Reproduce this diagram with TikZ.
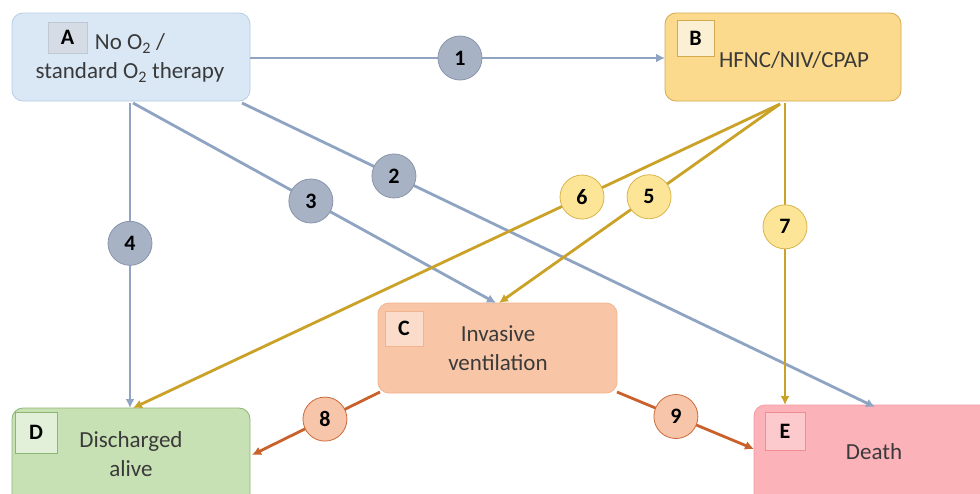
\documentclass[tikz,border=0pt]{standalone}
\usepackage{fontspec}
\setmainfont{Carlito}
\usetikzlibrary{arrows.meta,calc}
\definecolor{aFill}{HTML}{DAE8F6}\definecolor{aDraw}{HTML}{B7CDE6}
\definecolor{aLab}{HTML}{D6DCE5}\definecolor{aLabD}{HTML}{C0C8D4}
\definecolor{bFill}{HTML}{FCDA8D}\definecolor{bDraw}{HTML}{D4AA4F}
\definecolor{bLab}{HTML}{FCF0D4}
\definecolor{cFill}{HTML}{F8C6A6}\definecolor{cDraw}{HTML}{F2B48F}
\definecolor{cLab}{HTML}{FBDCCB}
\definecolor{dFill}{HTML}{C8E1B4}\definecolor{dDraw}{HTML}{8DB673}
\definecolor{dLab}{HTML}{E2F0D9}
\definecolor{eFill}{HTML}{FBB3B9}\definecolor{eDraw}{HTML}{F49AA2}
\definecolor{eLab}{HTML}{FCC9CD}\definecolor{eLabD}{HTML}{F08C96}
\definecolor{gLine}{HTML}{8FA4C2}\definecolor{yLine}{HTML}{C9A227}\definecolor{oLine}{HTML}{C8612B}
\definecolor{gCirc}{HTML}{A8B2C5}\definecolor{gCircD}{HTML}{8A95AB}
\definecolor{yCirc}{HTML}{FDE597}\definecolor{yCircD}{HTML}{D8B54C}
\definecolor{oCirc}{HTML}{F7C5A9}\definecolor{oCircD}{HTML}{CB6A39}
\definecolor{txt}{HTML}{3A3A3A}
\tikzset{
  statebox/.style={draw, line width=0.8pt, rounded corners=11pt, inner sep=0pt},
  labbox/.style={draw, line width=0.8pt, inner sep=0pt, font=\fontsize{22}{24}\selectfont\bfseries},
  bodytext/.style={align=center, text=txt, font=\fontsize{23}{29}\selectfont, inner sep=0pt},
  conn/.style={line width=2.8pt, -{Latex[length=9pt,width=9pt]}, shorten >=0pt},
  numcirc/.style={circle, draw, line width=0.8pt, minimum size=44pt, inner sep=0pt, font=\fontsize{22}{22}\selectfont\bfseries},
  gcirc/.style={numcirc, fill=gCirc, draw=gCircD},
  ycirc/.style={numcirc, fill=yCirc, draw=yCircD},
  ocirc/.style={numcirc, fill=oCirc, draw=oCircD},
}
\begin{document}
\begin{tikzpicture}[x=1pt,y=-1pt]
\useasboundingbox (0,0) rectangle (980,493);
\clip (0,0) rectangle (980,493);
\fill[white] (0,0) rectangle (980,493);
% state boxes
\node[statebox, fill=aFill, draw=aDraw, minimum width=238pt, minimum height=88pt] (A) at (131,57) {};
\node[statebox, fill=bFill, draw=bDraw, minimum width=236pt, minimum height=88pt] (B) at (783,57) {};
\node[statebox, fill=cFill, draw=cDraw, minimum width=239pt, minimum height=90pt] (C) at (497.5,348) {};
\node[statebox, fill=dFill, draw=dDraw, minimum width=238pt, minimum height=100pt] (D) at (131,458) {};
\node[statebox, fill=eFill, draw=eDraw, minimum width=240pt, minimum height=100pt] (E) at (874,455) {};
% letter boxes
\node[labbox, fill=aLab, draw=aLabD, minimum width=39pt, minimum height=31pt] (Al) at (67.5,37.5) {A};
\node[labbox, fill=bLab, draw=bDraw, minimum width=37pt, minimum height=36pt] (Bl) at (695.5,38) {B};
\node[labbox, fill=cLab, draw=cDraw, minimum width=38pt, minimum height=35pt] (Cl) at (404,328.5) {C};
\node[labbox, fill=dLab, draw=dDraw, minimum width=42pt, minimum height=41pt] (Dl) at (36,432.5) {D};
\node[labbox, fill=eLab, draw=eLabD, minimum width=40pt, minimum height=38pt] (El) at (785,431) {E};
% body texts
\node[bodytext] (At) at (130,58) {No O\textsubscript{2} /\\standard O\textsubscript{2} therapy};
\node[bodytext] (Bt) at (794,60) {HFNC/NIV/CPAP};
\node[bodytext] (Ct) at (498,348) {Invasive\\ventilation};
\node[bodytext] (Dt) at (131,454) {Discharged\\alive};
\node[bodytext] (Et) at (874,452) {Death};
% connector end points
\coordinate (a1) at (250,58);   \coordinate (b1) at (665,58);
\coordinate (a2) at (242,103);  \coordinate (e2) at (875,407);
\coordinate (a3) at (133,103);  \coordinate (c3) at (496,303);
\coordinate (a4) at (130,103);  \coordinate (d4) at (130,408);
\coordinate (b5) at (780,104);  \coordinate (c5) at (499,303);
\coordinate (b6) at (780,104);  \coordinate (d6) at (133,408);
\coordinate (b7) at (785,103);  \coordinate (e7) at (785,405);
\coordinate (c8) at (380,392);  \coordinate (d8) at (252,455);
\coordinate (c9) at (617,392);  \coordinate (e9) at (754,449);
% connectors
\draw[conn, gLine] (a1) -- (b1);
\draw[conn, gLine] (a2) -- (e2);
\draw[conn, gLine] (a3) -- (c3);
\draw[conn, gLine] (a4) -- (d4);
\draw[conn, yLine] (b5) -- (c5);
\draw[conn, yLine] (b6) -- (d6);
\draw[conn, yLine] (b7) -- (e7);
\draw[conn, oLine] (c8) -- (d8);
\draw[conn, oLine] (c9) -- (e9);
% numbered circles
\node[gcirc] (n1) at ($(a1)!0.506!(b1)$) {1};
\node[gcirc] (n2) at ($(a2)!0.24!(e2)$) {2};
\node[gcirc] (n3) at ($(a3)!0.49!(c3)$) {3};
\node[gcirc] (n4) at ($(a4)!0.46!(d4)$) {4};
\node[ycirc] (n5) at ($(b5)!0.466!(c5)$) {5};
\node[ycirc] (n6) at ($(b6)!0.306!(d6)$) {6};
\node[ycirc] (n7) at ($(b7)!0.41!(e7)$) {7};
\node[ocirc] (n8) at ($(c8)!0.43!(d8)$) {8};
\node[ocirc] (n9) at ($(c9)!0.43!(e9)$) {9};
\end{tikzpicture}
\end{document}
